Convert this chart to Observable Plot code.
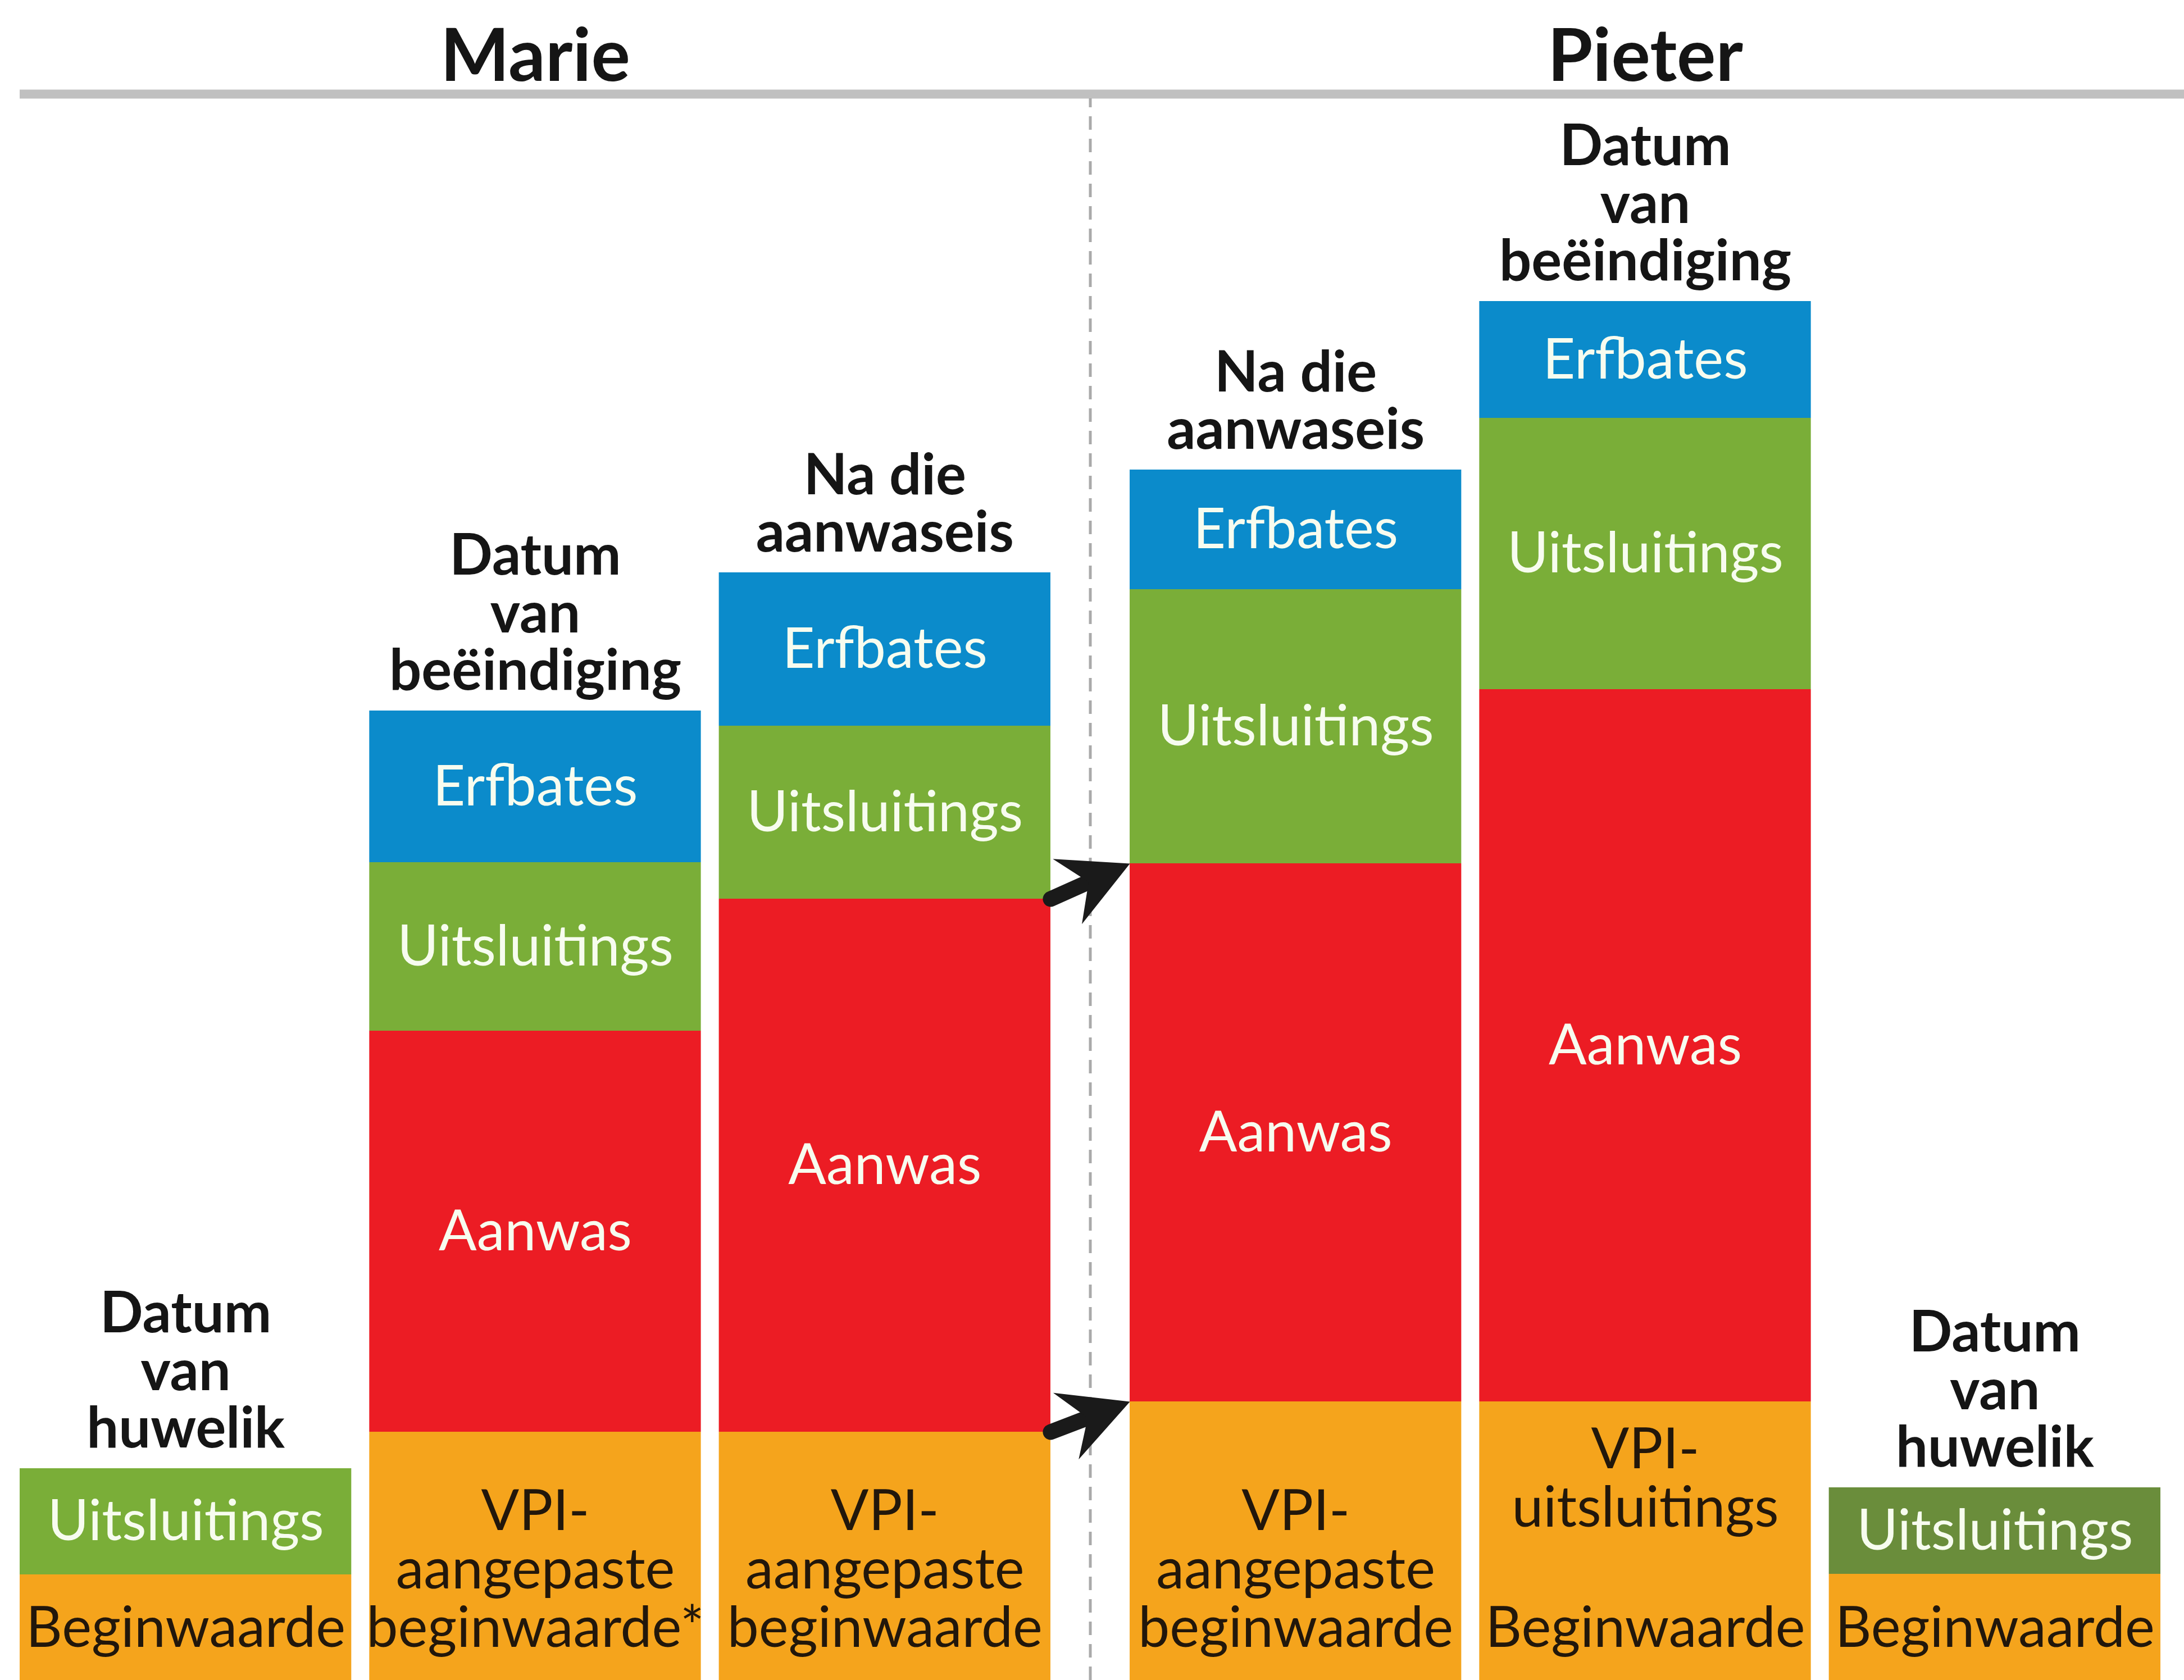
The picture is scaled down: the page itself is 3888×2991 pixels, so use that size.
<!DOCTYPE html>
<html>
<head>
<meta charset="utf-8">
<script src="https://cdn.jsdelivr.net/npm/d3@7"></script>
<script src="https://cdn.jsdelivr.net/npm/@observablehq/plot@0.6"></script>
<style>
  html, body { margin: 0; padding: 0; background: #ffffff; }
  #chart svg { display: block; }
</style>
</head>
<body>
<div id="chart"></div>
<script>
// ---------------- data ----------------
const people = ["Marie", "Pieter"];
const barPerson = ["Marie", "Marie", "Marie", "Pieter", "Pieter", "Pieter"];
const barStage = [
  "Datum\nvan\nhuwelik",
  "Datum\nvan\nbeëindiging",
  "Na die\naanwaseis",
  "Na die\naanwaseis",
  "Datum\nvan\nbeëindiging",
  "Datum\nvan\nhuwelik"
];
// segments, bottom to top
const segBar = [0, 0, 1, 1, 1, 1, 2, 2, 2, 2, 3, 3, 3, 3, 4, 4, 4, 4, 4, 5, 5];
const segCategory = [
  "Beginwaarde", "Uitsluitings",
  "VPI-aangepaste beginwaarde", "Aanwas", "Uitsluitings", "Erfbates",
  "VPI-aangepaste beginwaarde", "Aanwas", "Uitsluitings", "Erfbates",
  "VPI-aangepaste beginwaarde", "Aanwas", "Uitsluitings", "Erfbates",
  "Beginwaarde", "VPI-uitsluitings", "Aanwas", "Uitsluitings", "Erfbates",
  "Beginwaarde", "Uitsluitings"
];
const segLabel = [
  "Beginwaarde", "Uitsluitings",
  "VPI-\naangepaste\nbeginwaarde*", "Aanwas", "Uitsluitings", "Erfbates",
  "VPI-\naangepaste\nbeginwaarde", "Aanwas", "Uitsluitings", "Erfbates",
  "VPI-\naangepaste\nbeginwaarde", "Aanwas", "Uitsluitings", "Erfbates",
  "Beginwaarde", "VPI-\nuitsluitings", "Aanwas", "Uitsluitings", "Erfbates",
  "Beginwaarde", "Uitsluitings"
];
const segValue = [
  18.8, 18.9,
  44.2, 71.4, 30.0, 27.0,
  44.2, 94.9, 30.8, 27.3,
  49.6, 95.8, 48.8, 21.3,
  18.9, 30.7, 126.8, 48.3, 20.8,
  18.9, 15.4
];
// arrows: the Aanwas boundaries carried from Marie's last bar to Pieter's first bar
const arrowFromBar = 2, arrowToBar = 3, arrowCategory = "Aanwas";

// ---------------- styles / layout ----------------
const W = 3888, H = 2991;
const MARGIN_LEFT = 35, MARGIN_TOP = 175;
const PAD = 32 / 590, GROUP_GAP = 141 / 590, RIGHT_EXTRA = 42 / 590; // in bar widths
const Y_TOP = 281.6;
const colors = {
  "Beginwaarde": "#f5a41c",
  "VPI-aangepaste beginwaarde": "#f5a41c",
  "VPI-uitsluitings": "#f5a41c",
  "Aanwas": "#ec1c24",
  "Uitsluitings": "#7aae38",
  "Erfbates": "#0b8bcb"
};
const GREEN_DARK = "#6a8d3b";
const darkText = new Set(["Beginwaarde", "VPI-aangepaste beginwaarde", "VPI-uitsluitings"]);
const labelShift = {"VPI-uitsluitings": -16};
const FONT = "Lato, 'Open Sans', sans-serif";

function barLeft(i) { return i * (1 + PAD) + (i >= 3 ? GROUP_GAP - PAD : 0); }
const X_MAX = barLeft(5) + 1 + RIGHT_EXTRA;
const kx = (W - MARGIN_LEFT) / X_MAX;
const ky = (H - MARGIN_TOP) / Y_TOP;

// ---------------- derived tables ----------------
const segments = [];
const running = new Array(barPerson.length).fill(0);
segValue.forEach((v, k) => {
  const b = segBar[k];
  const y1 = running[b];
  running[b] += v;
  segments.push({
    bar: b, category: segCategory[k], label: segLabel[k],
    x1: barLeft(b), x2: barLeft(b) + 1, y1, y2: running[b]
  });
});
const bars = barPerson.map((p, i) => ({
  person: p, stage: barStage[i], x: barLeft(i) + 0.5, total: running[i]
}));
const groups = people.map(p => {
  const idx = barPerson.map((q, i) => q === p ? i : -1).filter(i => i >= 0);
  return {person: p, x: (barLeft(d3.min(idx)) + barLeft(d3.max(idx)) + 1) / 2};
});
const sepX = (barLeft(2) + 1 + barLeft(3)) / 2;

const fromSeg = segments.find(s => s.bar === arrowFromBar && s.category === arrowCategory);
const toSeg = segments.find(s => s.bar === arrowToBar && s.category === arrowCategory);
const HEAD = 122;
const arrows = [["y1", "y1"], ["y2", "y2"]].map(([a, b]) => {
  const x1 = fromSeg.x2, y1 = fromSeg[a], x2 = toSeg.x1, y2 = toSeg[b];
  const dxp = (x2 - x1) * kx, dyp = -(y2 - y1) * ky;
  const len = Math.hypot(dxp, dyp);
  const f = 0.72 * HEAD / len;
  return {
    x1, y1, x2, y2,
    sx2: x2 - f * (x2 - x1), sy2: y2 - f * (y2 - y1),
    angle: Math.atan2(dyp, dxp) * 180 / Math.PI
  };
});
const arrowHead = {
  draw(ctx, size) {
    const r = Math.sqrt(size / Math.PI);
    ctx.moveTo(0, 0);
    ctx.lineTo(-r, -0.52 * r);
    ctx.lineTo(-0.66 * r, 0);
    ctx.lineTo(-r, 0.52 * r);
    ctx.closePath();
  }
};

const segFill = d => (d.bar === 5 && d.category === "Uitsluitings") ? GREEN_DARK : colors[d.category];
const labelFill = d => darkText.has(d.category) ? "#22170b" : "#f7fcef";
const labelStyle = {fontSize: 100, fontFamily: FONT, lineHeight: 1.04};

// labels of segments resting on the (cropped) baseline sit on a common baseline
const bottomSegs = segments.filter(d => d.y1 === 0);
const innerSegs = segments.filter(d => d.y1 !== 0);
const shifts = Array.from(new Set(innerSegs.map(d => labelShift[d.category] || 0)));
const innerMarks = shifts.map(s => Plot.text(innerSegs.filter(d => (labelShift[d.category] || 0) === s), {
  x: d => (d.x1 + d.x2) / 2, y: d => (d.y1 + d.y2) / 2, text: "label", dy: s,
  fill: labelFill, lineAnchor: "middle", ...labelStyle
}));

const chart = Plot.plot({
  width: W,
  height: H,
  marginLeft: MARGIN_LEFT,
  marginRight: 0,
  marginTop: MARGIN_TOP,
  marginBottom: 0,
  style: {background: "#ffffff", fontFamily: FONT},
  x: {domain: [0, X_MAX], axis: null},
  y: {domain: [0, Y_TOP], axis: null},
  color: {type: "identity"},
  marks: [
    // header rule
    Plot.ruleY([Y_TOP], {x1: 0, x2: X_MAX, stroke: "#c0c0c0", strokeWidth: 16, dy: -8}),
    // dashed separator
    Plot.ruleX([sepX], {y1: 0, y2: Y_TOP, stroke: "#aaaaaa", strokeWidth: 5, strokeDasharray: "24,16"}),
    // bars
    Plot.rect(segments, {x1: "x1", x2: "x2", y1: "y1", y2: "y2", fill: segFill}),
    // labels in bars
    Plot.text(bottomSegs, {
      x: d => (d.x1 + d.x2) / 2, y: "y1", text: "label", dy: -60,
      fill: labelFill, lineAnchor: "bottom", ...labelStyle
    }),
    ...innerMarks,
    // stage labels above bars
    Plot.text(bars, {
      x: "x", y: "total", text: "stage", lineAnchor: "bottom", dy: -38,
      fontSize: 101, fontWeight: 700, fontFamily: FONT, lineHeight: 1.01, fill: "#151515"
    }),
    // person headers
    Plot.text(groups, {
      x: "x", frameAnchor: "top", text: "person", lineAnchor: "bottom", dy: -32,
      fontSize: 130, fontWeight: 700, fontFamily: FONT, fill: "#151515"
    }),
    // arrows
    Plot.link(arrows, {x1: "x1", y1: "y1", x2: "sx2", y2: "sy2", stroke: "#1a1a1a", strokeWidth: 28, strokeLinecap: "round"}),
    Plot.dot(arrows, {x: "x2", y: "y2", r: HEAD, symbol: arrowHead, fill: "#1a1a1a", stroke: "none", rotate: "angle"})
  ]
});
document.getElementById("chart").appendChild(chart);
</script>
</body>
</html>
